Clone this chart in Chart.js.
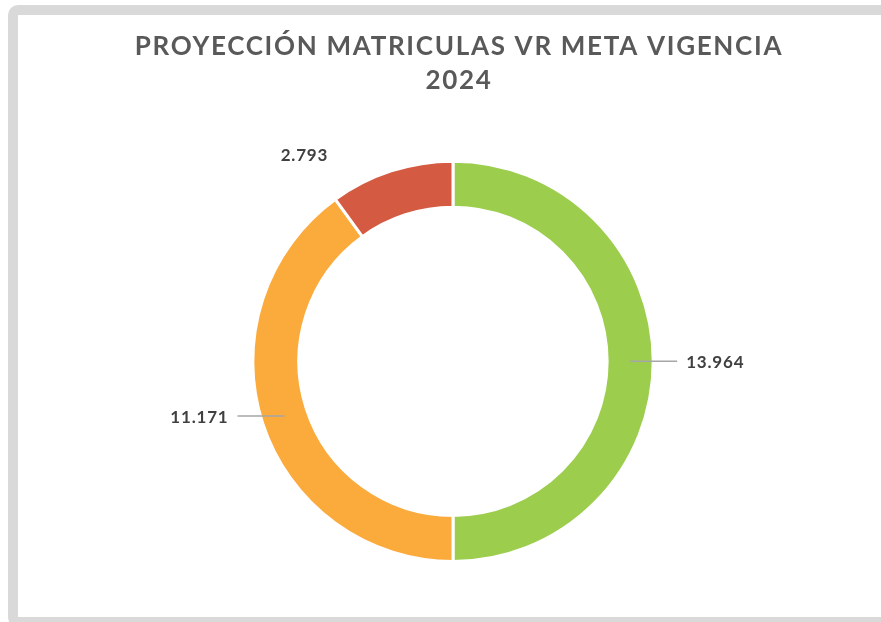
<!DOCTYPE html>
<html lang="es">
<head>
    <meta charset="UTF-8">
    <title>Proyección matriculas</title>
    <style>
        html, body {
            margin: 0;
            padding: 0;
            overflow: hidden;
            background-color: #ffffff;
        }

        .lienzo {
            position: relative;
            width: 881px;
            height: 622px;
            overflow: hidden;
            font-family: Lato, Arial, sans-serif;
        }

        .marco {
            position: absolute;
            left: 8px;
            top: 5px;
            width: 930px;
            height: 622px;
            box-sizing: border-box;
            border: 10px solid #d9d9d9;
            border-radius: 10px;
            background: #ffffff;
        }

        .chart-container {
            position: absolute;
            left: 0;
            top: 0;
            width: 881px;
            height: 622px;
        }
    </style>
    <script src="https://cdn.jsdelivr.net/npm/chart.js"></script>
</head>
<body>
    <div class="lienzo">
        <div class="marco"></div>
        <div class="chart-container">
            <canvas id="chartMatriculas"></canvas>
        </div>
    </div>

    <script>
        // Datos
        const categorias = ['Matriculados', 'Proyección', 'Faltante'];
        const valores = [13964, 11171, 2793];
        const colores = ['#9ccd4d', '#fbaa3c', '#d45b42'];
        const tituloLineas = ['PROYECCIÓN MATRICULAS VR META VIGENCIA', '2024'];

        // etiquetas: con linea guia o desplazadas
        const conLinea = [true, true, false];
        const desplazamiento = [[0, 0], [0, 0], [-63, -15]];

        const formato = v => v.toLocaleString('de-DE');

        // espaciado de letras del titulo (se dibuja antes de los datos)
        const espaciadoPlugin = {
            id: 'espaciado',
            beforeDraw(chart) {
                chart.ctx.save();
                chart.ctx.translate(6, 0);
                chart.ctx.letterSpacing = '1.7px';
            },
            beforeDatasetsDraw(chart) {
                chart.ctx.restore();
                chart.ctx.letterSpacing = '0px';
            }
        };

        const etiquetasPlugin = {
            id: 'etiquetas',
            afterDatasetsDraw(chart) {
                const ctx = chart.ctx;
                const meta = chart.getDatasetMeta(0);
                ctx.save();
                ctx.font = 'bold 17px Lato, Arial, sans-serif';
                ctx.letterSpacing = '0.8px';
                ctx.fillStyle = '#404040';
                ctx.textBaseline = 'middle';
                meta.data.forEach((arc, i) => {
                    const p = arc.getProps(['x', 'y', 'startAngle', 'endAngle', 'innerRadius', 'outerRadius'], true);
                    const mid = (p.startAngle + p.endAngle) / 2;
                    const texto = formato(chart.data.datasets[0].data[i]);
                    if (conLinea[i]) {
                        const r = (p.innerRadius + p.outerRadius) / 2;
                        const ax = p.x + Math.cos(mid) * r;
                        const ay = p.y + Math.sin(mid) * r;
                        const lado = Math.cos(mid) >= 0 ? 1 : -1;
                        const ex = ax + lado * 47;
                        ctx.strokeStyle = '#a6a6a6';
                        ctx.lineWidth = 1.5;
                        ctx.beginPath();
                        ctx.moveTo(ax, ay);
                        ctx.lineTo(ex, ay);
                        ctx.stroke();
                        ctx.textAlign = lado > 0 ? 'left' : 'right';
                        ctx.fillText(texto, ex + lado * 9, ay + 1);
                    } else {
                        const ox = p.x + Math.cos(mid) * p.outerRadius;
                        const oy = p.y + Math.sin(mid) * p.outerRadius;
                        ctx.textAlign = 'right';
                        ctx.fillText(texto, ox + desplazamiento[i][0], oy + desplazamiento[i][1]);
                    }
                });
                ctx.restore();
            }
        };

        const ctxMat = document.getElementById('chartMatriculas').getContext('2d');
        new Chart(ctxMat, {
            type: 'doughnut',
            data: {
                labels: categorias,
                datasets: [{
                    data: valores,
                    backgroundColor: colores,
                    borderColor: '#ffffff',
                    borderWidth: 3,
                    hoverOffset: 0,
                    offset: 0
                }]
            },
            options: {
                responsive: true,
                maintainAspectRatio: false,
                animation: false,
                cutout: '77%',
                layout: {
                    padding: { left: 25, right: 0, top: 0, bottom: 59 }
                },
                plugins: {
                    legend: { display: false },
                    tooltip: { enabled: false },
                    title: {
                        display: true,
                        text: tituloLineas,
                        color: '#595959',
                        font: { family: 'Lato, Arial, sans-serif', size: 26, weight: 'bold', lineHeight: 1.32 },
                        padding: { top: 29, bottom: 62 }
                    }
                }
            },
            plugins: [espaciadoPlugin, etiquetasPlugin]
        });
    </script>
</body>
</html>
